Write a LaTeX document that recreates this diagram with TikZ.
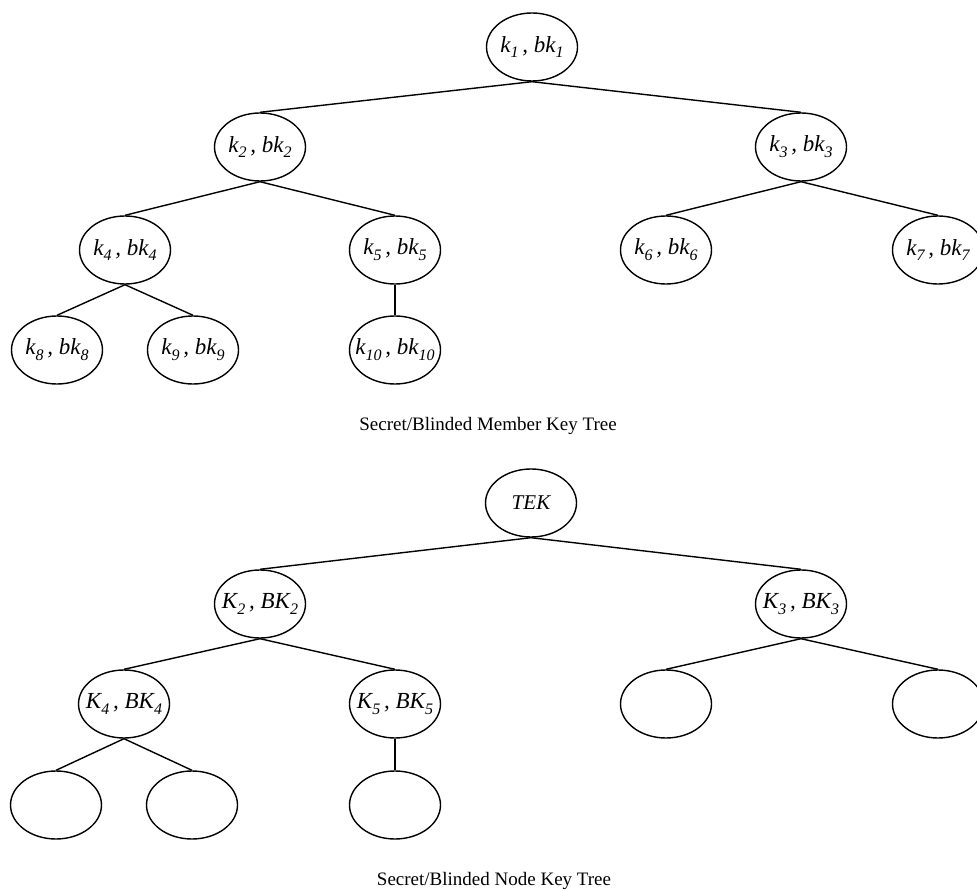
\documentclass[tikz,border=0pt]{standalone}
\usepackage{fontspec}
\setmainfont{Liberation Serif}
\usetikzlibrary{shapes.geometric}
% lowered, smaller index for key labels
\newcommand{\lowsub}[1]{\raisebox{-0.55ex}{\fontsize{16}{16}\selectfont #1}}
% label of zero width, so every ellipse keeps the same size
\newcommand{\keylabel}[3]{\makebox[0pt]{#1\lowsub{#3}\,, #2\lowsub{#3}}}
\begin{document}
\begin{tikzpicture}[x=1pt,y=-1pt,
  keynode/.style={draw, ellipse, line width=1.4pt, minimum width=91pt,
    minimum height=68pt, inner sep=0pt, font=\fontsize{23}{23}\selectfont\itshape},
  edge/.style={line width=1.4pt},
  caption/.style={font=\fontsize{19}{19}\selectfont, anchor=base}]
\useasboundingbox (0,0) rectangle (977,890);

% secret / blinded member key tree
\node[keynode] (m1)  at (532, 47)  {\keylabel{k}{bk}{1}};
\node[keynode] (m2)  at (260,147)  {\keylabel{k}{bk}{2}};
\node[keynode] (m3)  at (801,147)  {\keylabel{k}{bk}{3}};
\node[keynode] (m4)  at (125,250)  {\keylabel{k}{bk}{4}};
\node[keynode] (m5)  at (395,250)  {\keylabel{k}{bk}{5}};
\node[keynode] (m6)  at (666,250)  {\keylabel{k}{bk}{6}};
\node[keynode] (m7)  at (938,250)  {\keylabel{k}{bk}{7}};
\node[keynode] (m8)  at (57,350)   {\keylabel{k}{bk}{8}};
\node[keynode] (m9)  at (193,350)  {\keylabel{k}{bk}{9}};
\node[keynode] (m10) at (395,350)  {\keylabel{k}{bk}{10}};

\draw[edge] (m1.south) -- (m2.north);
\draw[edge] (m1.south) -- (m3.north);
\draw[edge] (m2.south) -- (m4.north);
\draw[edge] (m2.south) -- (m5.north);
\draw[edge] (m3.south) -- (m6.north);
\draw[edge] (m3.south) -- (m7.north);
\draw[edge] (m4.south) -- (m8.north);
\draw[edge] (m4.south) -- (m9.north);
\draw[edge] (m5.south) -- (m10.north);

\node[caption] (cap1) at (488,430) {Secret/Blinded Member Key Tree};

% secret / blinded node key tree
\node[keynode] (t1)  at (531,503) {\fontsize{21}{21}\selectfont TEK};
\node[keynode] (t2)  at (260,604) {\keylabel{K}{BK}{2}};
\node[keynode] (t3)  at (801,604) {\keylabel{K}{BK}{3}};
\node[keynode] (t4)  at (124,704) {\keylabel{K}{BK}{4}};
\node[keynode] (t5)  at (395,704) {\keylabel{K}{BK}{5}};
\node[keynode] (t6)  at (666,704) {};
\node[keynode] (t7)  at (938,704) {};
\node[keynode] (t8)  at (56,805)  {};
\node[keynode] (t9)  at (192,805) {};
\node[keynode] (t10) at (395,805) {};

\draw[edge] (t1.south) -- (t2.north);
\draw[edge] (t1.south) -- (t3.north);
\draw[edge] (t2.south) -- (t4.north);
\draw[edge] (t2.south) -- (t5.north);
\draw[edge] (t3.south) -- (t6.north);
\draw[edge] (t3.south) -- (t7.north);
\draw[edge] (t4.south) -- (t8.north);
\draw[edge] (t4.south) -- (t9.north);
\draw[edge] (t5.south) -- (t10.north);

\node[caption] (cap2) at (494,885) {Secret/Blinded Node Key Tree};
\end{tikzpicture}
\end{document}
